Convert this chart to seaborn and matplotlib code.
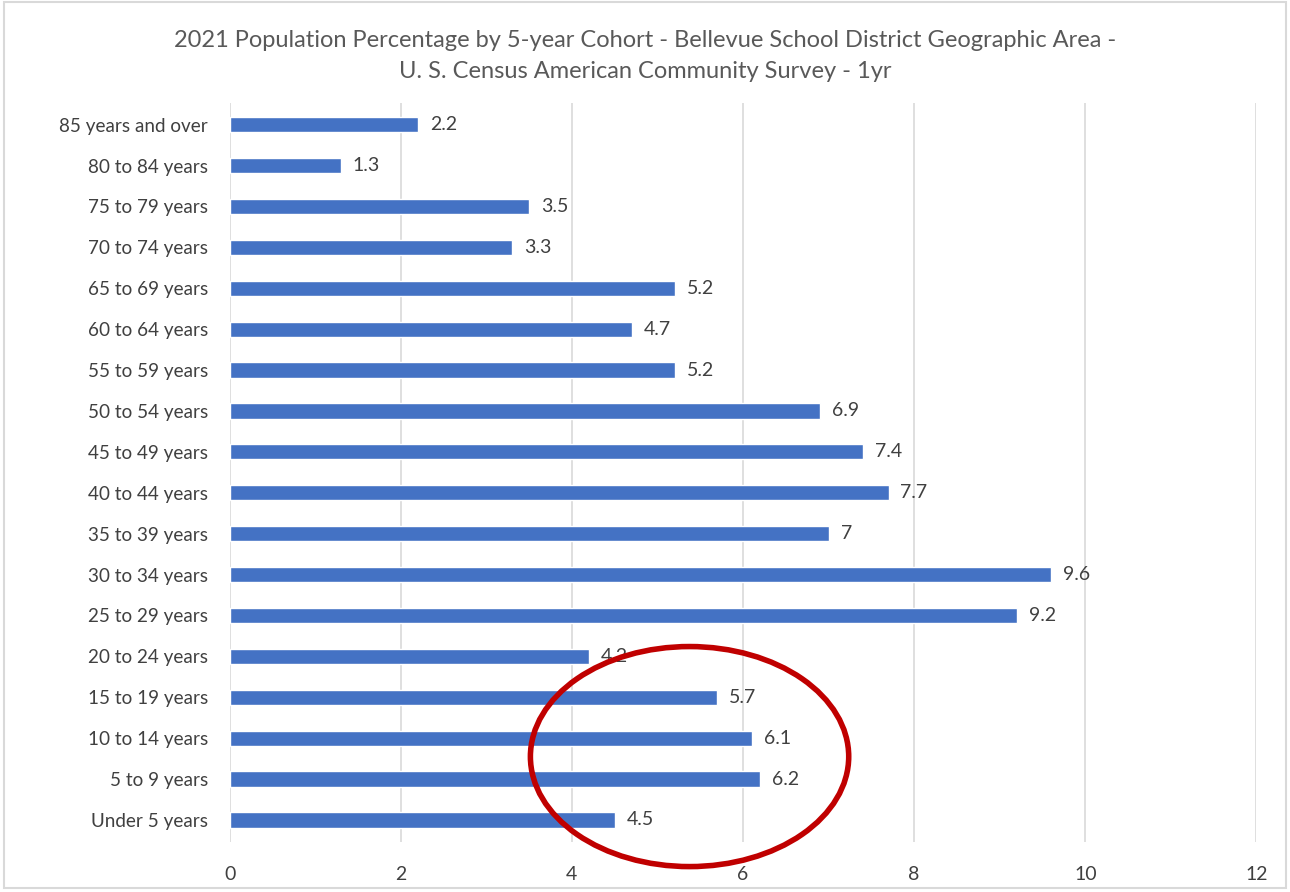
import matplotlib
matplotlib.use("Agg")
import matplotlib.pyplot as plt
import seaborn as sns
import pandas as pd
from matplotlib.patches import Ellipse, Rectangle

# data (top to bottom)
cohorts = ["85 years and over", "80 to 84 years", "75 to 79 years", "70 to 74 years",
           "65 to 69 years", "60 to 64 years", "55 to 59 years", "50 to 54 years",
           "45 to 49 years", "40 to 44 years", "35 to 39 years", "30 to 34 years",
           "25 to 29 years", "20 to 24 years", "15 to 19 years", "10 to 14 years",
           "5 to 9 years", "Under 5 years"]
pct = [2.2, 1.3, 3.5, 3.3, 5.2, 4.7, 5.2, 6.9, 7.4, 7.7, 7, 9.6, 9.2, 4.2, 5.7, 6.1, 6.2, 4.5]
xticks = [0, 2, 4, 6, 8, 10, 12]

df = pd.DataFrame({"cohort": cohorts, "pct": pct})

sns.set_style("white")
plt.rcParams["font.family"] = ["Lato", "DejaVu Sans"]
txt = "#404040"

fig = plt.figure(figsize=(12.9, 8.92), dpi=100)
ax = fig.add_axes([0.178, 0.056, 0.796, 0.829])

sns.barplot(data=df, x="pct", y="cohort", color="#4472C4", saturation=1,
            width=0.37, ax=ax, zorder=3)

for i, v in enumerate(pct):
    lab = f"{v:g}"
    ax.text(v + 0.14, i, lab, va="center", ha="left", fontsize=14, color=txt, zorder=4)

ax.set_xlim(0, 12)
ax.set_ylim(len(cohorts) - 0.46, -0.54)
ax.set_xticks(xticks)
ax.set_xticklabels([str(t) for t in xticks])
ax.grid(axis="x", color="#d9d9d9", linewidth=1.2, zorder=0)
ax.set_xlabel("")
ax.set_ylabel("")
for s in ax.spines.values():
    s.set_visible(False)
ax.tick_params(axis="x", length=0, pad=17, labelsize=14, labelcolor=txt)
ax.tick_params(axis="y", length=0, pad=20, labelsize=13.6, labelcolor=txt)
for t in ax.get_yticklabels():
    t.set_x(t.get_position()[0] + 0.006)

fig.text(0.5, 0.955, "2021 Population Percentage by 5-year Cohort - Bellevue School District Geographic Area -",
         ha="center", va="center", fontsize=17, color="#595959")
fig.text(0.5, 0.92, "U. S. Census American Community Survey - 1yr",
         ha="center", va="center", fontsize=17, color="#595959")

# red highlight ellipse
ell = Ellipse((5.375, 15.45), width=3.72, height=5.38, fill=False,
              edgecolor="#C00000", linewidth=4, clip_on=False, zorder=5)
ax.add_patch(ell)

# light frame around the chart
fig.patches.append(Rectangle((0.003, 0.005), 0.994, 0.993, transform=fig.transFigure,
                             fill=False, edgecolor="#d9d9d9", linewidth=1.5))

fig.savefig("out.png", dpi=100)
